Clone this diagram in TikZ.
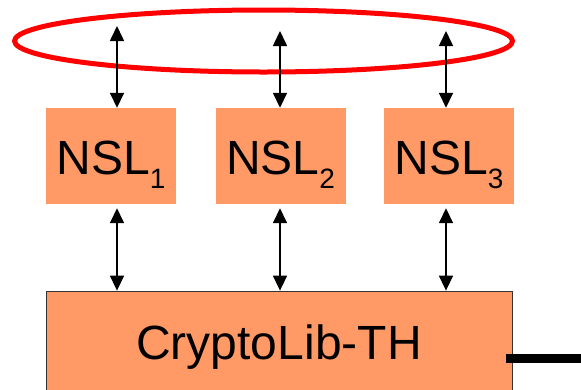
\documentclass[tikz,border=0pt]{standalone}
\usepackage{fontspec}
\setmainfont{Liberation Sans}
\usetikzlibrary{arrows.meta,shapes.geometric}
\definecolor{boxfill}{HTML}{FF9966}
\newcommand{\nslsub}[1]{\raisebox{-14pt}{\fontsize{28}{28}\selectfont #1}}
\tikzset{
  nslbox/.style={fill=boxfill, draw=none, minimum width=130pt, minimum height=96pt,
    inner sep=0pt, text height=36pt, text depth=0pt,
    font=\fontsize{48}{48}\selectfont},
  libbox/.style={fill=boxfill, draw=black!80, line width=0.8pt, minimum width=466pt,
    minimum height=119pt, inner sep=0pt, text height=34pt, text depth=17pt,
    font=\fontsize{48}{48}\selectfont},
  link/.style={line width=1.6pt, {Triangle[length=15pt,width=14pt]}-{Triangle[length=15pt,width=14pt]}},
  ring/.style={draw=red, line width=5pt}
}
\begin{document}
\begin{tikzpicture}[x=1pt,y=-1pt]
  \clip (0,0) rectangle (581,389);
  \fill[white] (0,0) rectangle (581,389);

  % shared ring on top
  \node[ring, ellipse, minimum width=498pt, minimum height=62pt, inner sep=0pt] (ring) at (263.5,41) {};

  % protocol layers
  \node[nslbox] (n1) at (111,156) {NSL\nslsub{1}};
  \node[nslbox] (n2) at (280.5,156) {NSL\nslsub{2}};
  \node[nslbox] (n3) at (449,156) {NSL\nslsub{3}};

  % library block
  \node[libbox] (lib) at (279,350.5) {CryptoLib-TH};

  % ring <-> layers
  \coordinate (t1) at (117,26);
  \coordinate (t2) at (280,31);
  \coordinate (t3) at (446,31);
  \draw[link] (t1) -- (t1 |- n1.north);
  \draw[link] (t2) -- (t2 |- n2.north);
  \draw[link] (t3) -- (t3 |- n3.north);

  % layers <-> library
  \draw[link] ([yshift=-4pt]t1 |- n1.south) -- (t1 |- lib.north);
  \draw[link] ([yshift=-4pt]t2 |- n2.south) -- (t2 |- lib.north);
  \draw[link] ([yshift=-4pt]t3 |- n3.south) -- (t3 |- lib.north);

  % outgoing thick line
  \coordinate (outA) at (506,358);
  \coordinate (outB) at (590,358);
  \draw[line width=9pt] (outA) -- (outB);
\end{tikzpicture}
\end{document}
